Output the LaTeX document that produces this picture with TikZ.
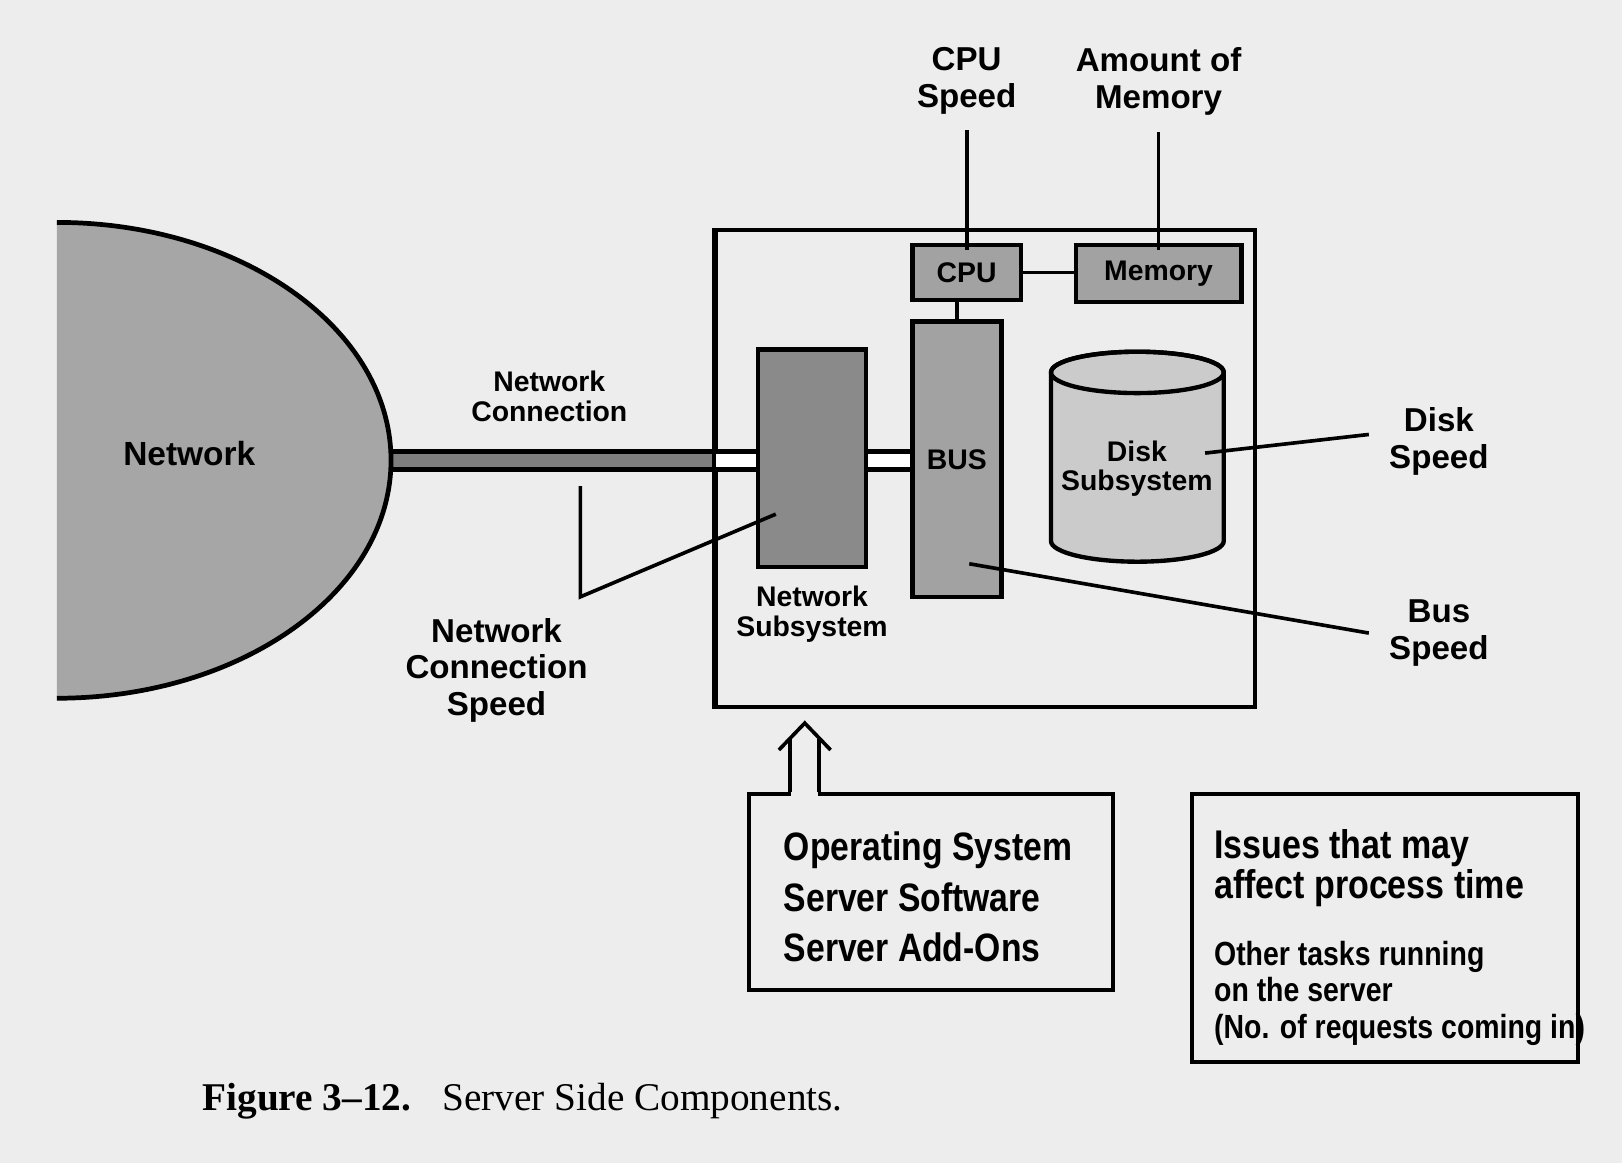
\documentclass[tikz,border=0pt]{standalone}
\usepackage{fontspec}
\setmainfont{Liberation Sans}
\newfontfamily\narrowsans{Liberation Sans}[FakeStretch=0.85]
\newfontfamily\capserif{Liberation Serif}
\usetikzlibrary{calc,positioning}
\definecolor{pagegray}{HTML}{EDEDED}
\definecolor{netgray}{HTML}{A6A6A6}
\definecolor{bargray}{HTML}{7E7E7E}
\definecolor{subgray}{HTML}{8A8A8A}
\definecolor{partgray}{HTML}{A2A2A2}
\definecolor{diskgray}{HTML}{CBCBCB}
\tikzset{
  lbl/.style={font=\fontsize{9.1}{10.1}\selectfont\bfseries, align=center, inner sep=0pt},
  inlbl/.style={font=\fontsize{7.8}{8.1}\selectfont\bfseries, align=center, inner sep=0pt},
  part/.style={draw, line width=1.2pt, fill=partgray, inner sep=0pt, font=\fontsize{7.8}{9}\selectfont\bfseries},
  lead/.style={line width=1pt},
  txtbox/.style={draw, line width=1.1pt, inner sep=0pt},
  pipe/.style={line width=1.4pt, double distance=0.124cm},
  ostxt/.style={font=\narrowsans\fontsize{10.9}{14}\selectfont\bfseries, align=left, inner sep=0pt},
  isshead/.style={font=\narrowsans\fontsize{11}{11.1}\selectfont\bfseries, align=left, inner sep=0pt},
  isstxt/.style={font=\narrowsans\fontsize{9.2}{10}\selectfont\bfseries, align=left, inner sep=0pt},
}

\begin{document}
\begin{tikzpicture}[x=0.01cm,y=-0.01cm]
\fill[pagegray] (0,0) rectangle (1568,1124);
\useasboundingbox (0,0) rectangle (1568,1124);

% network
\fill[netgray] (55,215) arc[start angle=-90,end angle=90,x radius=323,y radius=230] -- cycle;
\node[lbl,font=\fontsize{9.2}{10}\selectfont\bfseries] (net) at (183,438) {Network};
\coordinate (netE) at (376,445);

% server and its parts
\node[txtbox,minimum width=5.21cm,minimum height=4.61cm] (srv) at (952.5,452.5) {};
\node[part,minimum width=1.05cm,minimum height=0.53cm] (cpu) at (934.5,263.5) {CPU};
\node[part,minimum width=1.60cm,minimum height=0.55cm] (mem) at (1120,264.5) {Memory};
\node[part,minimum width=0.86cm,minimum height=2.66cm] (bus) at (925,444) {BUS};
\node[part,fill=subgray,minimum width=1.04cm,minimum height=2.10cm] (netsub) at (785,443) {};
\node[inlbl,below=0.16cm of netsub] (netsubl) {Network\\Subsystem};

% disk
\filldraw[fill=diskgray,line width=1.2pt] (1016,360) -- (1016,523)
  arc[start angle=180,end angle=0,x radius=83.5,y radius=20]
  -- (1183,360) arc[start angle=0,end angle=-180,x radius=83.5,y radius=20] -- cycle;
\draw[line width=1.2pt] (1099.5,360) ellipse[x radius=83.5,y radius=20];
\node[inlbl] (disk) at (1099,453) {Disk\\Subsystem};

% connections
\draw[lead] (cpu.east) -- (cpu.east -| mem.west);
\draw[lead] (bus.north) -- (bus.north |- cpu.south);
\draw[pipe,double=bargray] (netE) -- (netE -| srv.west);
\draw[pipe,double=white] (netE -| srv.west) -- (netE -| netsub.west);
\draw[pipe,double=white] (netE -| netsub.east) -- (netE -| bus.west);
\draw[line width=1.1pt] (srv.north west) -- (srv.south west);
\draw[line width=1.3pt] (55,215) arc[start angle=-90,end angle=90,x radius=323,y radius=230];

% labels
\node[lbl] (cpuspd) at (934.5,78) {CPU\\Speed};
\node[lbl] (memamt) at (1120,79) {Amount of\\Memory};
\node[inlbl] (netconn) at (531,383) {Network\\Connection};
\node[lbl] (netspd) at (480,648) {Network\\Connection\\Speed};
\node[lbl] (diskspd) at (1391,427) {Disk\\Speed};
\node[lbl] (busspd) at (1391,612) {Bus\\Speed};

% leaders
\coordinate (diskpt) at (1165,438);
\coordinate (buspt) at (937,545);
\coordinate (nstop) at (561,470);
\coordinate (nsbend) at (561,577);
\draw[lead] ([yshift=-0.15cm]cpuspd.south) -- ([yshift=-0.07cm]cpu.north);
\draw[lead] ([yshift=-0.15cm]memamt.south) -- ([yshift=-0.07cm]mem.north);
\draw[lead] (diskpt) -- ([xshift=-0.19cm,yshift=0.07cm]diskspd.west);
\draw[lead] (buspt) -- ([xshift=-0.19cm]busspd.west);
\draw[lead] (nstop) -- (nsbend) -- ([xshift=-0.35cm,yshift=-0.54cm]netsub.center);

% software box
\node[txtbox,minimum width=3.52cm,minimum height=1.89cm] (os) at (900,862.5) {};
\node[ostxt,anchor=west] (osl) at (757,867) {Operating System\\Server Software\\Server Add-Ons};
\coordinate (arrL) at ($(os.north west)+(42,0)$);
\coordinate (arrR) at ($(os.north west)+(70,0)$);
\coordinate (arrtip) at ($(os.north west)+(56,-67)$);
\fill[pagegray] ($(arrL)+(1,-4)$) rectangle ($(arrR)+(-1,4)$);
\draw[lead] (arrL) -- ++(0,-52) (arrR) -- ++(0,-52);
\draw[lead,line join=miter] ($(arrtip)+(-25,26)$) -- (arrtip) -- ($(arrtip)+(25,26)$);

% issues box
\node[isshead,anchor=west] (issh) at (1173,839) {Issues that may\\affect process time};
\node[isstxt,anchor=west] (isso) at (1173,960) {Other tasks running\\on the server\\(No. of requests coming in)};
\node[txtbox,minimum width=3.73cm,minimum height=2.59cm] (iss) at (1338.5,897.5) {};

% caption
\node[anchor=base west,font=\capserif\fontsize{10.8}{13}\selectfont,inner sep=0pt] (figcap) at (195,1074)
  {\textbf{Figure 3–12.}\hspace{0.3cm}Server Side Components.};
\end{tikzpicture}
\end{document}
